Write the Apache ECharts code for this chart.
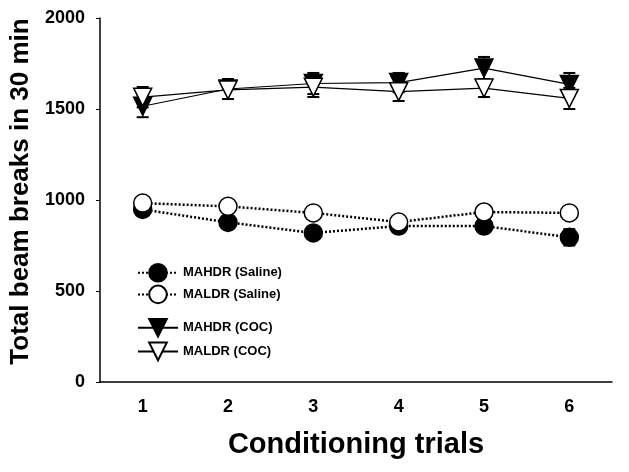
<!DOCTYPE html>
<html>
<head>
<meta charset="utf-8">
<script src="https://cdn.jsdelivr.net/npm/echarts@6/dist/echarts.min.js"></script>
<style>
html, body { margin: 0; padding: 0; background: #fff; }
#chart { width: 629px; height: 472px; }
</style>
</head>
<body>
<div id="chart"></div>
<script>
// 试验次数
var trials = ['1', '2', '3', '4', '5', '6'];
// 均值
var mahdrSaline = [948, 877, 819, 857, 857, 795];
var maldrSaline = [983, 965, 929, 879, 934, 929];
var mahdrCoc = [1515, 1610, 1640, 1645, 1725, 1635];
var maldrCoc = [1565, 1605, 1620, 1595, 1615, 1558];
// 误差 (SEM)
var mahdrSaleErr = [30, 30, 30, 30, 35, 45];
var maldrSalineErr = [30, 30, 30, 30, 30, 30];
var mahdrCocErr = [60, 55, 58, 53, 61, 63];
var maldrCocErr = [56, 50, 54, 51, 49, 58];
// y 轴刻度
var yTicks = [0, 500, 1000, 1500, 2000];

var font = 'Liberation Sans, Arial, sans-serif';

// 误差线数据 [index, low, high]
function errData(vals, errs) {
	var out = [];
	for (var i = 0; i < vals.length; i++) {
		out.push([i, vals[i] - errs[i], vals[i] + errs[i]]);
	}
	return out;
}

function errRender(params, api) {
	var lo = api.coord([api.value(0), api.value(1)]);
	var hi = api.coord([api.value(0), api.value(2)]);
	var w = 6;
	var style = { stroke: '#000', lineWidth: 1.5 };
	var capStyle = { stroke: '#000', lineWidth: 2 };
	return {
		type: 'group',
		children: [
			{ type: 'line', shape: { x1: lo[0], y1: lo[1], x2: hi[0], y2: hi[1] }, style: style },
			{ type: 'line', shape: { x1: hi[0] - w, y1: hi[1], x2: hi[0] + w, y2: hi[1] }, style: capStyle },
			{ type: 'line', shape: { x1: lo[0] - w, y1: lo[1], x2: lo[0] + w, y2: lo[1] }, style: capStyle }
		]
	};
}

function errSeries(vals, errs) {
	return {
		type: 'custom',
		renderItem: errRender,
		data: errData(vals, errs),
		z: 1,
		silent: true
	};
}

var dotted = { color: '#000', width: 2.5, type: [2, 2] };
var solid = { color: '#000', width: 1.2, type: 'solid' };
var legendText = { fontFamily: font, fontWeight: 'bold', fontSize: 13, color: '#000' };

var myChart = echarts.init(document.getElementById('chart'));
var option = {
	animation: false,
	backgroundColor: '#fff',
	grid: { left: 97, top: 18, right: 17, bottom: 90, containLabel: false },
	legend: [{
		orient: 'vertical',
		left: 137,
		top: 263,
		padding: 0,
		itemWidth: 40,
		itemHeight: 22,
		itemGap: 2,
		textStyle: legendText,
		data: ['MAHDR (Saline)', 'MALDR (Saline)']
	}, {
		orient: 'vertical',
		left: 137,
		top: 318,
		padding: 0,
		itemWidth: 40,
		itemHeight: 22,
		itemGap: 4,
		textStyle: legendText,
		data: ['MAHDR (COC)', 'MALDR (COC)']
	}],
	xAxis: {
		type: 'category',
		data: trials,
		boundaryGap: true,
		name: 'Conditioning trials',
		nameLocation: 'middle',
		nameGap: 48,
		nameTextStyle: { fontFamily: font, fontWeight: 'bold', fontSize: 29, color: '#000' },
		axisLine: { lineStyle: { color: '#000', width: 1.5 } },
		axisTick: { alignWithLabel: true, length: 4, lineStyle: { color: '#000' } },
		axisLabel: { fontFamily: font, fontWeight: 'bold', fontSize: 18, color: '#000', margin: 16 },
		splitLine: { show: false }
	},
	yAxis: {
		type: 'value',
		min: yTicks[0],
		max: yTicks[yTicks.length - 1],
		interval: 500,
		name: 'Total beam breaks in 30 min',
		nameLocation: 'middle',
		nameGap: 66,
		nameTextStyle: { fontFamily: font, fontWeight: 'bold', fontSize: 26, color: '#000', padding: [0, 0, 0, 17] },
		axisLine: { show: true, lineStyle: { color: '#000', width: 1.5 } },
		axisTick: { show: true, length: 4, lineStyle: { color: '#000' } },
		axisLabel: {
			fontFamily: font, fontWeight: 'bold', fontSize: 18, color: '#000', margin: 15,
			formatter: function(v) { return String(v); }
		},
		splitLine: { show: false }
	},
	series: [
		errSeries(mahdrSaline, mahdrSaleErr),
		errSeries(maldrSaline, maldrSalineErr),
		errSeries(mahdrCoc, mahdrCocErr),
		errSeries(maldrCoc, maldrCocErr),
		{
			name: 'MAHDR (Saline)',
			type: 'line',
			data: mahdrSaline,
			symbol: 'circle',
			symbolSize: 18,
			lineStyle: dotted,
			itemStyle: { color: '#000', borderColor: '#000', borderWidth: 1.5 },
			z: 2
		},
		{
			name: 'MALDR (Saline)',
			type: 'line',
			data: maldrSaline,
			symbol: 'circle',
			symbolSize: 18,
			lineStyle: dotted,
			itemStyle: { color: '#fff', borderColor: '#000', borderWidth: 1.5 },
			z: 3
		},
		{
			name: 'MAHDR (COC)',
			type: 'line',
			data: mahdrCoc,
			symbol: 'triangle',
			symbolRotate: 180,
			symbolSize: 18,
			lineStyle: solid,
			itemStyle: { color: '#000', borderColor: '#000', borderWidth: 1.5 },
			z: 2
		},
		{
			name: 'MALDR (COC)',
			type: 'line',
			data: maldrCoc,
			symbol: 'triangle',
			symbolRotate: 180,
			symbolSize: 18,
			lineStyle: solid,
			itemStyle: { color: '#fff', borderColor: '#000', borderWidth: 1.5 },
			z: 3
		}
	]
};
myChart.setOption(option, true);
</script>
</body>
</html>
